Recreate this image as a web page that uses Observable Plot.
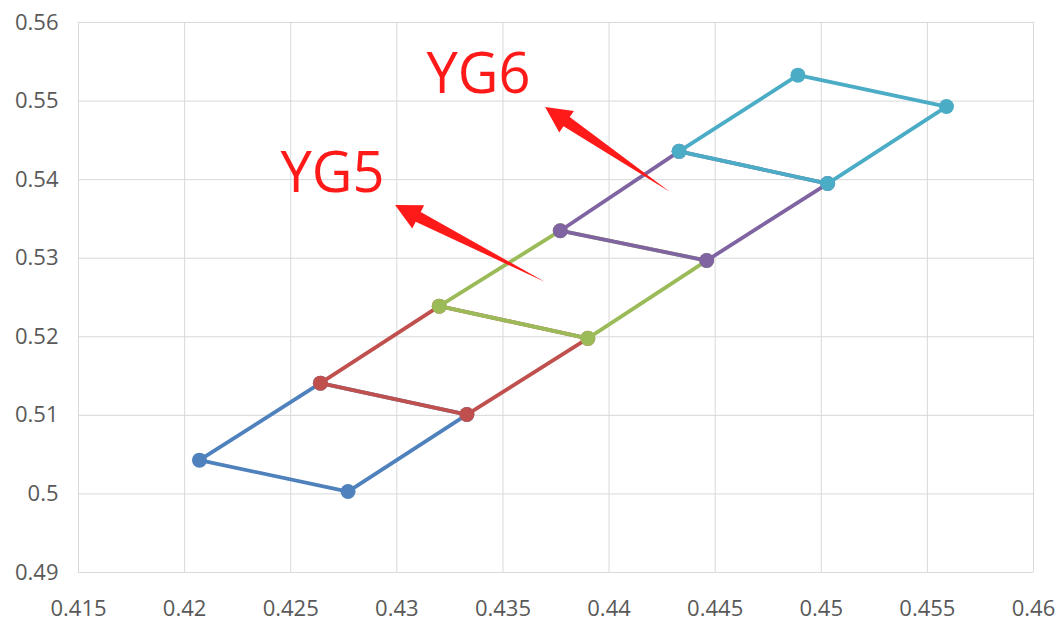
<!DOCTYPE html>
<html>
<head>
<meta charset="utf-8">
<script src="https://cdn.jsdelivr.net/npm/d3@7"></script>
<script src="https://cdn.jsdelivr.net/npm/@observablehq/plot@0.6"></script>
<style>
  html, body { margin: 0; padding: 0; background: #fff; }
  #chart { width: 1061px; height: 620px; }
</style>
</head>
<body>
<div id="chart"></div>
<script>
// Each "rung" is a pair of points (left, right); series i joins rung i and rung i+1.
const leftX  = [0.4207, 0.4264, 0.4320, 0.4377, 0.4433, 0.4489];
const leftY  = [0.5043, 0.5141, 0.5239, 0.5335, 0.5436, 0.5533];
const rightX = [0.4277, 0.4333, 0.4390, 0.4446, 0.4503, 0.4559];
const rightY = [0.5003, 0.5101, 0.5198, 0.5297, 0.5395, 0.5493];
const seriesColors = ["#4F81BD", "#C0504D", "#9BBB59", "#8064A2", "#4BACC6"];

const xTicks = [0.415, 0.42, 0.425, 0.43, 0.435, 0.44, 0.445, 0.45, 0.455, 0.46];
const yTicks = [0.49, 0.5, 0.51, 0.52, 0.53, 0.54, 0.55, 0.56];

// Annotations
const labelText = ["YG6", "YG5"];
const labelX = [0.43385, 0.42697];
const labelY = [0.5533, 0.5407];
const arrowTipX  = [0.43701, 0.42994];
const arrowTipY  = [0.54918, 0.53671];
const arrowTailX = [0.44290, 0.43701];
const arrowTailY = [0.53836, 0.52691];

const fmt = d => String(+d.toFixed(3));

const marks = [
  Plot.gridX(xTicks, {stroke: "#d9d9d9", strokeOpacity: 1, strokeWidth: 1}),
  Plot.gridY(yTicks, {stroke: "#d9d9d9", strokeOpacity: 1, strokeWidth: 1}),
  Plot.axisX(xTicks, {tickSize: 0, tickPadding: 28, tickFormat: fmt, fill: "#595959", fontSize: 22}),
  Plot.axisY(yTicks, {tickSize: 0, tickPadding: 20, tickFormat: fmt, fill: "#595959", fontSize: 22})
];

for (let i = 0; i < seriesColors.length; i++) {
  const pts = [
    {x: leftX[i], y: leftY[i]},
    {x: rightX[i], y: rightY[i]},
    {x: rightX[i + 1], y: rightY[i + 1]},
    {x: leftX[i + 1], y: leftY[i + 1]},
    {x: leftX[i], y: leftY[i]}
  ];
  marks.push(Plot.line(pts, {x: "x", y: "y", stroke: seriesColors[i], strokeWidth: 3.8, curve: "linear"}));
  marks.push(Plot.dot(pts.slice(0, 4), {x: "x", y: "y", r: 7.5, fill: seriesColors[i], stroke: "none"}));
}

const arrows = arrowTipX.map((_, i) => ({x1: arrowTailX[i], y1: arrowTailY[i], x2: arrowTipX[i], y2: arrowTipY[i]}));
marks.push(Plot.arrow(arrows, {
  x1: "x1", y1: "y1", x2: "x2", y2: "y2",
  stroke: "#ff1a1a", strokeWidth: 5, headLength: 22,
  render: (index, scales, values) => {
    const g = d3.create("svg:g");
    for (const i of index) {
      const tx = values.x1[i], ty = values.y1[i];
      const hx = values.x2[i], hy = values.y2[i];
      const dx = hx - tx, dy = hy - ty;
      const L = Math.hypot(dx, dy);
      const ux = dx / L, uy = dy / L;
      const nx = -uy, ny = ux;
      const hl = 26, hw = 13, bw = 5.5;
      const bx = hx - ux * hl, by = hy - uy * hl;
      const p = [
        [hx, hy],
        [bx + nx * hw, by + ny * hw],
        [bx + nx * bw, by + ny * bw],
        [tx, ty],
        [bx - nx * bw, by - ny * bw],
        [bx - nx * hw, by - ny * hw]
      ];
      g.append("path").attr("d", "M" + p.map(q => q.join(",")).join("L") + "Z").attr("fill", "#ff1a1a");
    }
    return g.node();
  }
}));

const labels = labelText.map((t, i) => ({t, x: labelX[i], y: labelY[i]}));
marks.push(Plot.text(labels, {x: "x", y: "y", text: "t", fill: "#ff1a1a", fontSize: 56, fontFamily: "Open Sans", textAnchor: "middle", lineAnchor: "middle"}));

const chart = Plot.plot({
  width: 1061,
  height: 620,
  marginLeft: 78,
  marginRight: 28,
  marginTop: 22,
  marginBottom: 48,
  style: {fontFamily: "Open Sans", fontSize: "22px", background: "#fff", overflow: "visible"},
  x: {domain: [0.415, 0.46], nice: false},
  y: {domain: [0.49, 0.56], nice: false},
  marks
});
document.getElementById("chart").appendChild(chart);
</script>
</body>
</html>
